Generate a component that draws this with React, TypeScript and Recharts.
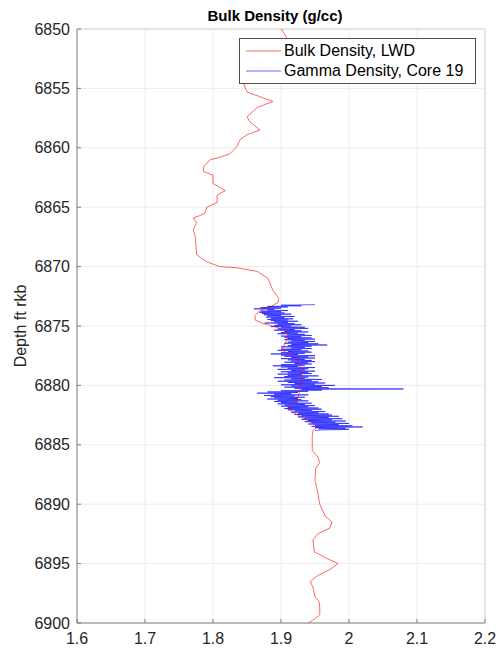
import { LineChart, Line, XAxis, YAxis, CartesianGrid, Legend, ReferenceLine } from "recharts";

const DENSITY_TICKS = [1.6, 1.7, 1.8, 1.9, 2.0, 2.1, 2.2];
const DEPTH_TICKS = [6850, 6855, 6860, 6865, 6870, 6875, 6880, 6885, 6890, 6895, 6900];

// LWD bulk density, [depth ft, g/cc]
const LWD: [number, number][] = [
  [6850.0, 1.901], [6850.7, 1.908], [6851.5, 1.89], [6852.5, 1.87], [6853.5, 1.855],
  [6854.5, 1.844], [6855.3, 1.85], [6855.7, 1.869], [6856.1, 1.888], [6856.6, 1.865],
  [6857.4, 1.85], [6857.8, 1.854], [6858.5, 1.869], [6858.9, 1.85], [6859.3, 1.84],
  [6859.9, 1.835], [6860.5, 1.825], [6860.8, 1.81], [6861.0, 1.796], [6861.6, 1.786],
  [6862.0, 1.786], [6862.3, 1.8], [6863.0, 1.8], [6863.6, 1.818], [6864.0, 1.806],
  [6864.6, 1.806], [6865.0, 1.791], [6865.5, 1.788], [6865.7, 1.781], [6865.9, 1.771],
  [6866.3, 1.776], [6866.9, 1.771], [6867.5, 1.774], [6868.3, 1.775], [6869.0, 1.776],
  [6869.6, 1.791], [6870.0, 1.81], [6870.1, 1.835], [6870.4, 1.865], [6871.0, 1.881],
  [6872.0, 1.888], [6872.6, 1.896], [6873.0, 1.896], [6873.4, 1.884], [6873.7, 1.869],
  [6874.1, 1.862], [6874.5, 1.862], [6874.8, 1.874], [6875.1, 1.894], [6875.5, 1.909],
  [6876.0, 1.91], [6876.8, 1.903], [6877.0, 1.901], [6877.3, 1.91], [6877.7, 1.923],
  [6878.4, 1.928], [6879.3, 1.931], [6880.0, 1.928], [6880.4, 1.928], [6881.0, 1.925],
  [6881.5, 1.918], [6881.9, 1.91], [6882.3, 1.918], [6882.7, 1.932], [6883.2, 1.947],
  [6883.5, 1.954], [6883.8, 1.947], [6884.2, 1.946], [6884.6, 1.946], [6885.5, 1.946],
  [6886.0, 1.954], [6886.5, 1.957], [6887.0, 1.951], [6888.0, 1.95], [6889.0, 1.954],
  [6890.0, 1.957], [6891.0, 1.965], [6891.5, 1.975], [6892.0, 1.972], [6892.5, 1.954],
  [6893.0, 1.947], [6894.0, 1.949], [6894.5, 1.965], [6895.0, 1.984], [6895.5, 1.972],
  [6896.0, 1.954], [6896.5, 1.943], [6897.0, 1.947], [6897.8, 1.95], [6898.2, 1.956],
  [6898.7, 1.957], [6899.3, 1.957], [6899.6, 1.951], [6900.0, 1.94],
];

// core 19 gamma density, [depth ft, g/cc]
const CORE: [number, number][] = [
  [6873.2, 1.95], [6873.25, 1.9], [6873.3, 1.93], [6873.35, 1.88], [6873.4, 1.91],
  [6873.45, 1.87], [6873.5, 1.9], [6873.55, 1.86], [6873.6, 1.89], [6873.65, 1.88],
  [6873.7, 1.91], [6873.75, 1.87], [6873.8, 1.9], [6873.85, 1.868], [6873.9, 1.905],
  [6873.95, 1.872], [6874.0, 1.915], [6874.05, 1.875], [6874.1, 1.9], [6874.15, 1.88],
  [6874.2, 1.92], [6874.25, 1.878], [6874.3, 1.905], [6874.35, 1.885], [6874.4, 1.918],
  [6874.45, 1.88], [6874.5, 1.91], [6874.55, 1.885], [6874.6, 1.925], [6874.65, 1.89],
  [6874.7, 1.91], [6874.75, 1.876], [6874.8, 1.92], [6874.85, 1.895], [6874.9, 1.93],
  [6874.95, 1.89], [6875.0, 1.915], [6875.05, 1.885], [6875.1, 1.935], [6875.15, 1.9],
  [6875.2, 1.94], [6875.25, 1.895], [6875.3, 1.92], [6875.35, 1.89], [6875.4, 1.93],
  [6875.45, 1.905], [6875.5, 1.94], [6875.55, 1.9], [6875.6, 1.925], [6875.65, 1.895],
  [6875.7, 1.935], [6875.75, 1.91], [6875.8, 1.945], [6875.85, 1.9], [6875.9, 1.93],
  [6875.95, 1.905], [6876.0, 1.945], [6876.05, 1.91], [6876.1, 1.95], [6876.15, 1.905],
  [6876.2, 1.935], [6876.25, 1.915], [6876.3, 1.95], [6876.35, 1.91], [6876.4, 1.94],
  [6876.45, 1.905], [6876.5, 1.955], [6876.55, 1.915], [6876.6, 1.968], [6876.65, 1.91],
  [6876.7, 1.945], [6876.75, 1.9], [6876.8, 1.935], [6876.85, 1.915], [6876.9, 1.945],
  [6876.95, 1.9], [6877.0, 1.93], [6877.05, 1.895], [6877.1, 1.94], [6877.15, 1.91],
  [6877.2, 1.945], [6877.25, 1.9], [6877.3, 1.935], [6877.35, 1.885], [6877.4, 1.925],
  [6877.45, 1.9], [6877.5, 1.95], [6877.55, 1.905], [6877.6, 1.94], [6877.65, 1.915],
  [6877.7, 1.95], [6877.75, 1.9], [6877.8, 1.935], [6877.85, 1.91], [6877.9, 1.945],
  [6877.95, 1.915], [6878.0, 1.95], [6878.05, 1.905], [6878.1, 1.94], [6878.15, 1.92],
  [6878.2, 1.945], [6878.25, 1.9], [6878.3, 1.935], [6878.35, 1.888], [6878.4, 1.925],
  [6878.45, 1.9], [6878.5, 1.95], [6878.55, 1.91], [6878.6, 1.94], [6878.65, 1.895],
  [6878.7, 1.935], [6878.75, 1.915], [6878.8, 1.95], [6878.85, 1.9], [6878.9, 1.94],
  [6878.95, 1.91], [6879.0, 1.945], [6879.05, 1.895], [6879.1, 1.93], [6879.15, 1.91],
  [6879.2, 1.955], [6879.25, 1.905], [6879.3, 1.94], [6879.35, 1.89], [6879.4, 1.935],
  [6879.45, 1.915], [6879.5, 1.96], [6879.55, 1.905], [6879.6, 1.945], [6879.65, 1.895],
  [6879.7, 1.955], [6879.75, 1.91], [6879.8, 1.965], [6879.85, 1.92], [6879.9, 1.95],
  [6879.95, 1.9], [6880.0, 1.979], [6880.05, 1.915], [6880.1, 1.96], [6880.15, 1.905],
  [6880.2, 1.97], [6880.25, 1.92], [6880.3, 2.08], [6880.35, 1.93], [6880.4, 1.96],
  [6880.45, 1.9], [6880.5, 1.94], [6880.55, 1.88], [6880.6, 1.925], [6880.65, 1.865],
  [6880.7, 1.915], [6880.75, 1.89], [6880.8, 1.94], [6880.85, 1.875], [6880.9, 1.92],
  [6880.95, 1.885], [6881.0, 1.935], [6881.05, 1.89], [6881.1, 1.925], [6881.15, 1.88],
  [6881.2, 1.93], [6881.25, 1.895], [6881.3, 1.94], [6881.35, 1.89], [6881.4, 1.925],
  [6881.45, 1.9], [6881.5, 1.945], [6881.55, 1.895], [6881.6, 1.935], [6881.65, 1.905],
  [6881.7, 1.95], [6881.75, 1.9], [6881.8, 1.94], [6881.85, 1.91], [6881.9, 1.955],
  [6881.95, 1.905], [6882.0, 1.96], [6882.05, 1.91], [6882.1, 1.945], [6882.15, 1.92],
  [6882.2, 1.965], [6882.25, 1.915], [6882.3, 1.955], [6882.35, 1.925], [6882.4, 1.97],
  [6882.45, 1.92], [6882.5, 1.975], [6882.55, 1.93], [6882.6, 1.985], [6882.65, 1.925],
  [6882.7, 1.97], [6882.75, 1.935], [6882.8, 1.99], [6882.85, 1.93], [6882.9, 1.975],
  [6882.95, 1.94], [6883.0, 1.995], [6883.05, 1.935], [6883.1, 1.98], [6883.15, 1.945],
  [6883.2, 2.0], [6883.25, 1.94], [6883.3, 1.985], [6883.35, 1.95], [6883.4, 2.005],
  [6883.45, 1.945], [6883.5, 2.02], [6883.55, 1.95], [6883.6, 1.995], [6883.65, 1.955],
  [6883.7, 2.0], [6883.75, 1.96], [6883.8, 1.95],
];

const lwdData = LWD.map(([d, v]) => ({ d, v }));
const coreData = CORE.map(([d, v]) => ({ d, v }));

const FONT = '"Liberation Sans", Arial, Helvetica, sans-serif';

const LEGEND_ITEMS = [
  { label: "Bulk Density, LWD", color: "#ff0000" },
  { label: "Gamma Density, Core 19", color: "#0000ff" },
];

function renderLegend() {
  return (
    <div style={{ background: "#fff", border: "1px solid #4d4d4d", padding: "2px 0", fontFamily: FONT, fontSize: 16, color: "#000" }}>
      {LEGEND_ITEMS.map((it) => (
        <div key={it.label} style={{ display: "flex", alignItems: "center", height: 20 }}>
          <svg width={44} height={20} style={{ flex: "none" }}>
            <line x1={6} x2={41} y1={10} y2={10} stroke={it.color} strokeWidth={0.6} />
          </svg>
          <span style={{ whiteSpace: "nowrap" }}>{it.label}</span>
        </div>
      ))}
    </div>
  );
}

function DepthLabel() {
  return (
    <text x={22} y={326} transform="rotate(-90 22 326)" textAnchor="middle" dominantBaseline="middle"
      fontFamily={FONT} fontSize={16} fill="#262626">
      Depth ft rkb
    </text>
  );
}

export default function App() {
  return (
    <div style={{ position: "absolute", left: 0, top: 0, width: 496, height: 648, background: "#fff", fontFamily: FONT }}>
      <div style={{ position: "absolute", left: 175, width: 200, top: 7, textAlign: "center", fontWeight: 700, fontSize: 15, color: "#000" }}>
        Bulk Density (g/cc)
      </div>
      <LineChart width={496} height={648} layout="vertical" margin={{ top: 29, right: 11, left: 0, bottom: 0 }}>
        <CartesianGrid stroke="#ececec" strokeWidth={1} />
        <XAxis
          type="number"
          dataKey="v"
          domain={[1.6, 2.2]}
          ticks={DENSITY_TICKS}
          tickFormatter={(t: number) => String(Math.round(t * 10) / 10)}
          allowDataOverflow
          height={25}
          axisLine={{ stroke: "#808080" }}
          tickLine={{ stroke: "#808080" }}
          tickSize={-4}
          tickMargin={14}
          tick={{ fill: "#262626", fontSize: 16, fontFamily: FONT }}
        />
        <YAxis
          type="number"
          dataKey="d"
          domain={[6850, 6900]}
          ticks={DEPTH_TICKS}
          allowDataOverflow
          width={77}
          axisLine={{ stroke: "#808080" }}
          tickLine={{ stroke: "#808080" }}
          tickSize={-4}
          tickMargin={11}
          tick={{ fill: "#262626", fontSize: 16, fontFamily: FONT }}
          label={{ content: DepthLabel }}
        />
        <ReferenceLine y={6850} stroke="#d6d6d6" />
        <ReferenceLine x={2.2} stroke="#d6d6d6" />
        <Line data={coreData} dataKey="v" name="Gamma Density, Core 19" type="linear" stroke="#0000ff" strokeWidth={0.6} dot={false} isAnimationActive={false} />
        <Line data={lwdData} dataKey="v" name="Bulk Density, LWD" type="linear" stroke="#ff0000" strokeWidth={0.6} dot={false} isAnimationActive={false} />
        <Legend
          verticalAlign="middle"
          align="center"
          content={renderLegend}
          wrapperStyle={{ left: 239, top: 38, width: 237 }}
        />
      </LineChart>
    </div>
  );
}
